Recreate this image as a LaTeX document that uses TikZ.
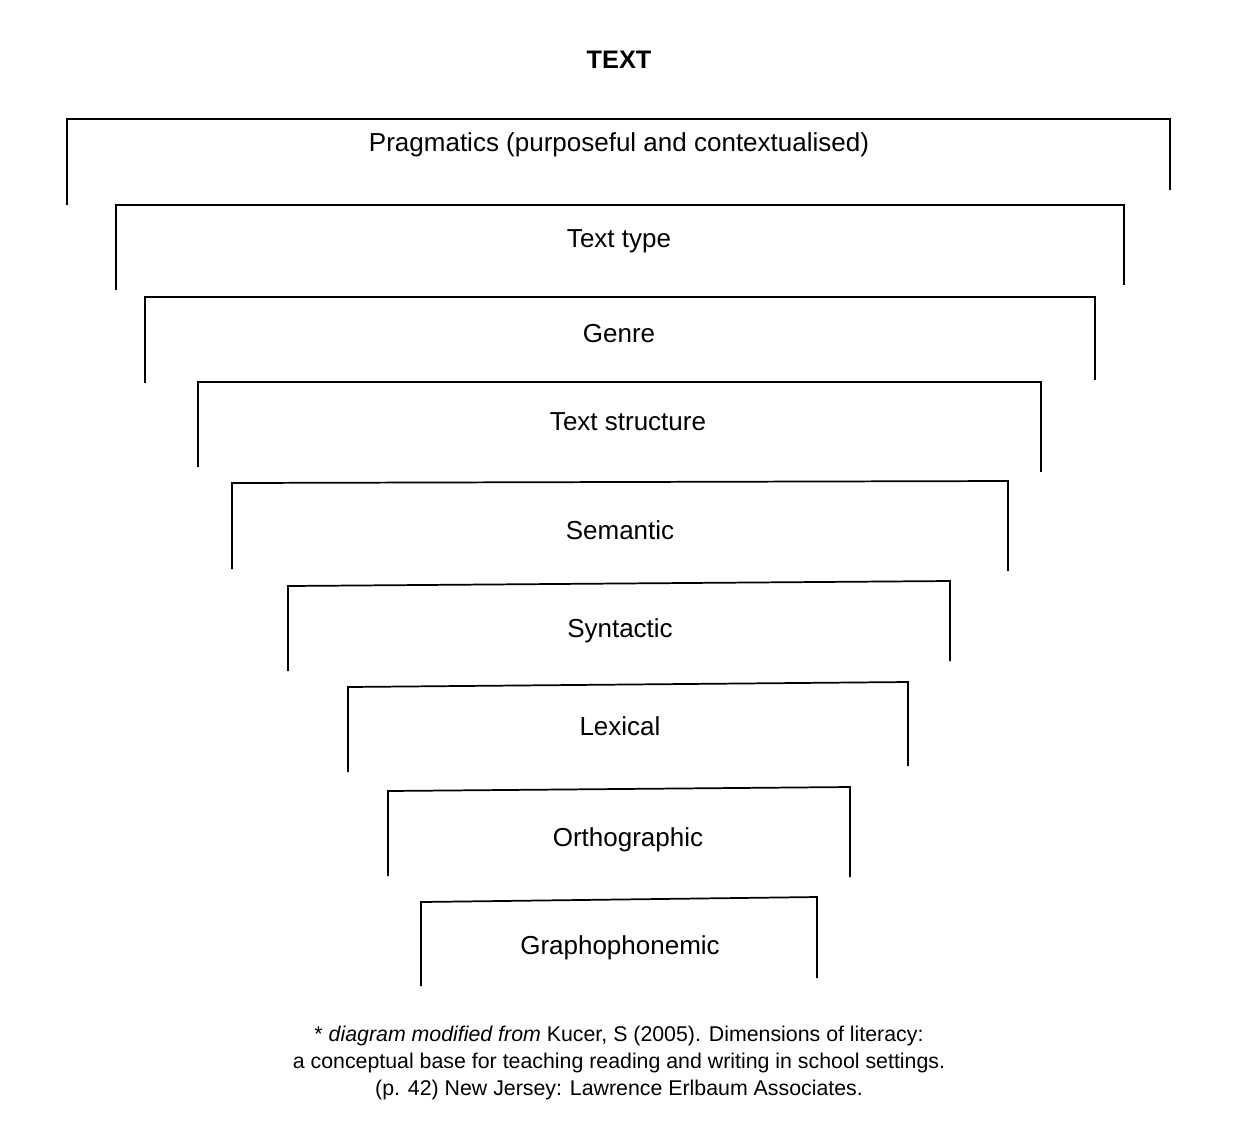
\documentclass[tikz,border=0pt]{standalone}
\usepackage{fontspec}
\setmainfont{Liberation Sans}
\begin{document}
\begin{tikzpicture}[x=0.75pt,y=-0.75pt,
  br/.style={draw=black,line width=1.3pt},
  lbl/.style={font=\fontsize{19.5}{22}\selectfont},
  foot/.style={font=\fontsize{16}{20.5}\selectfont,align=center}]
\useasboundingbox (0,0) rectangle (1237,1147);
\node[font=\fontsize{19}{22}\selectfont\bfseries] (title) at (619,60) {TEXT};
\foreach \l/\r/\tl/\tr/\bl/\brr [count=\i] in {
 67/1170/119/119/205/190,
 116/1124/205/205/290/285,
 145/1095/297/297/383/380,
 198/1041/382/382/467/472,
 232/1008/483/481/569/571,
 288/950/586/581/671/661,
 348/908/687/682/772/766,
 388/850/791/787/876/877,
 421/817/902/897/986/978}{
  \draw[br] (\l,\bl) -- (\l,\tl) -- (\r,\tr) -- (\r,\brr);
}
\node[lbl] (p) at (619,145) {Pragmatics (purposeful and contextualised)};
\node[lbl] (tt) at (619,241) {Text type};
\node[lbl] (g) at (619,334) {Genre};
\node[lbl] (ts) at (628,422) {Text structure};
\node[lbl] (se) at (620,530) {Semantic};
\node[lbl] (sy) at (620,631) {Syntactic};
\node[lbl] (le) at (620,726) {Lexical};
\node[lbl] (or) at (628,840) {Orthographic};
\node[lbl] (gr) at (620,948) {Graphophonemic};
\node[foot] (f) at (619,1063) {* \textit{diagram modified from} Kucer, S (2005). Dimensions of literacy:\\
a conceptual base for teaching reading and writing in school settings.\\
(p. 42) New Jersey: Lawrence Erlbaum Associates.};
\end{tikzpicture}
\end{document}
